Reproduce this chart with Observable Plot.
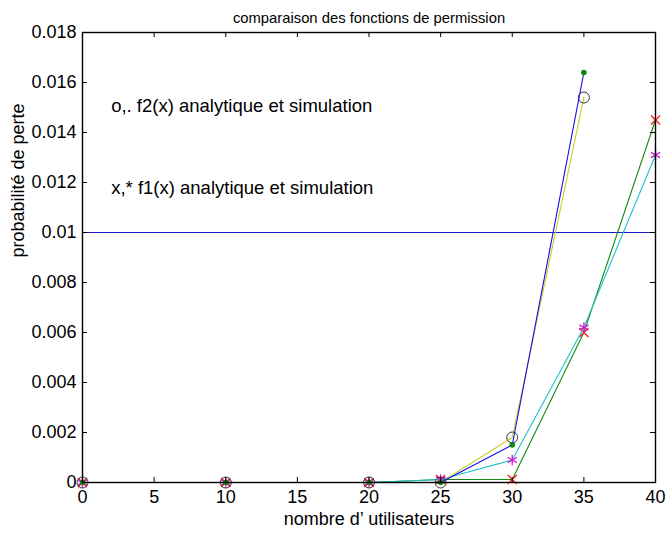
<!DOCTYPE html>
<html>
<head>
<meta charset="utf-8">
<script src="https://cdn.jsdelivr.net/npm/d3@7"></script>
<script src="https://cdn.jsdelivr.net/npm/@observablehq/plot@0.6"></script>
<style>
  html, body { margin: 0; padding: 0; background: #fff; }
  #chart svg { display: block; }
</style>
</head>
<body>
<div id="chart"></div>
<script>
// x values (nombre d'utilisateurs)
const xF2 = [0, 10, 20, 25, 30, 35];
const xF1 = [0, 10, 20, 25, 30, 35, 40];
// f2(x): analytique (blue line, green dots) and simulation (yellow line, circles)
const f2Analytique = [0, 0, 0, 0, 0.0015, 0.0164];
const f2Simulation = [0, 0, 0, 0, 0.0018, 0.0154];
// f1(x): analytique (green line, red x) and simulation (cyan line, magenta *)
const f1Analytique = [0, 0, 0, 0.00012, 0.00012, 0.0060, 0.0145];
const f1Simulation = [0, 0, 0, 0.00012, 0.0009, 0.0062, 0.0131];
const seuil = [0.01];
const xTicks = [0, 5, 10, 15, 20, 25, 30, 35, 40];
const yTicks = [0, 0.002, 0.004, 0.006, 0.008, 0.010, 0.012, 0.014, 0.016, 0.018];
const titre = "comparaison des fonctions de permission";
const xLabel = "nombre d’ utilisateurs";
const yLabel = "probabilité de perte";
const notes = [
  {x: 2, y: 0.01504, text: "o,. f2(x) analytique et simulation"},
  {x: 2, y: 0.01176, text: "x,* f1(x) analytique et simulation"}
];

const toRows = (xs, ys) => xs.map((x, i) => ({x, y: ys[i]}));
const f2A = toRows(xF2, f2Analytique);
const f2S = toRows(xF2, f2Simulation);
const f1A = toRows(xF1, f1Analytique);
const f1S = toRows(xF1, f1Simulation);

const W = 666, H = 533, mL = 82, mR = 11, mT = 32, mB = 51;
const fw = W - mL - mR, fh = H - mT - mB;
const font = "'Liberation Sans', Arial, Helvetica, sans-serif";

const fmtY = d => String(+d.toFixed(3));

const chart = Plot.plot({
  width: W, height: H,
  marginLeft: mL, marginRight: mR, marginTop: mT, marginBottom: mB,
  style: {fontFamily: font, background: "#fff", color: "#000"},
  x: {domain: [0, 40]},
  y: {domain: [0, 0.018]},
  marks: [
    Plot.ruleY(seuil, {stroke: "#1a1acc", strokeWidth: 1}),
    // f1 analytique
    Plot.line(f1A, {x: "x", y: "y", stroke: "#138a13", strokeWidth: 1.1}),
    Plot.dot(f1A, {x: "x", y: "y", symbol: "times", r: 4.2, stroke: "#ff2020", strokeWidth: 1.4}),
    // f1 simulation
    Plot.line(f1S, {x: "x", y: "y", stroke: "#1fc3cc", strokeWidth: 1.1}),
    Plot.dot(f1S, {x: "x", y: "y", symbol: "asterisk", r: 5, stroke: "#d21fd2", strokeWidth: 1.3}),
    // f2 simulation
    Plot.line(f2S, {x: "x", y: "y", stroke: "#cccc1e", strokeWidth: 1.1}),
    Plot.dot(f2S, {x: "x", y: "y", symbol: "circle", r: 5.5, stroke: "#333", strokeWidth: 1, fill: "none"}),
    // f2 analytique
    Plot.line(f2A, {x: "x", y: "y", stroke: "#1010ee", strokeWidth: 1.1}),
    Plot.dot(f2A, {x: "x", y: "y", symbol: "circle", r: 2.8, fill: "#0a8a0a", stroke: "none"}),
    // notes
    Plot.text(notes, {x: "x", y: "y", text: "text", textAnchor: "start", fontSize: 18.5, fill: "#000"}),
    // inward ticks on all four sides
    Plot.tickX(xTicks, {x: d => d, insetTop: fh - 5, stroke: "#000"}),
    Plot.tickX(xTicks, {x: d => d, insetBottom: fh - 5, stroke: "#000"}),
    Plot.tickY(yTicks, {y: d => d, insetRight: fw - 5, stroke: "#000"}),
    Plot.tickY(yTicks, {y: d => d, insetLeft: fw - 5, stroke: "#000"}),
    Plot.frame({stroke: "#000", strokeWidth: 1.4}),
    Plot.axisX({ticks: xTicks, tickSize: 0, tickPadding: 8, fontSize: 18, label: null, tickFormat: d => String(d)}),
    Plot.axisY({ticks: yTicks, tickSize: 0, tickPadding: 6, fontSize: 18, label: null, tickFormat: fmtY}),
    Plot.text([titre], {frameAnchor: "top", dy: -20, fontSize: 14.8, fill: "#000"}),
    Plot.text([xLabel], {frameAnchor: "bottom", dy: 42, fontSize: 18, fill: "#000"}),
    Plot.text([yLabel], {frameAnchor: "left", dx: -64, rotate: -90, fontSize: 18, fill: "#000"})
  ]
});
document.getElementById("chart").appendChild(chart);
</script>
</body>
</html>
